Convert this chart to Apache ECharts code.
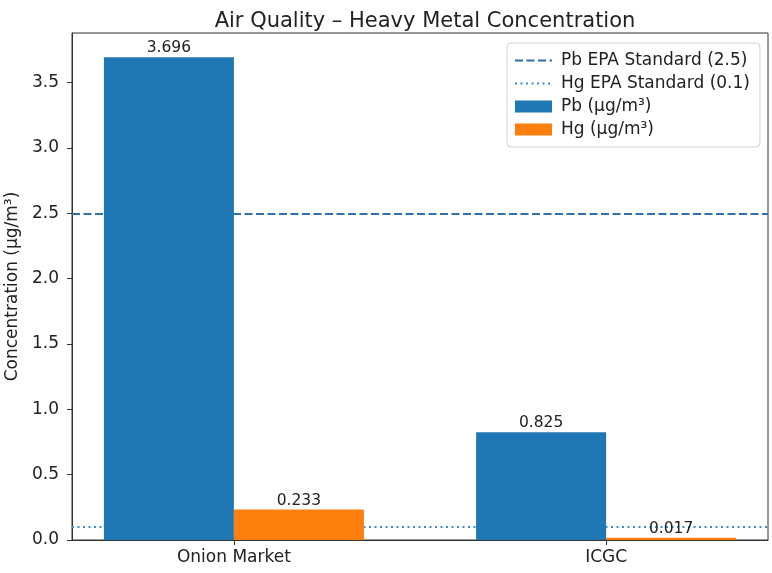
<!DOCTYPE html>
<html>
<head>
<meta charset="utf-8">
<script src="https://cdn.jsdelivr.net/npm/echarts@6/dist/echarts.min.js"></script>
<style>
  html, body { margin: 0; padding: 0; background: #fff; }
  #chart { width: 772px; height: 573px; }
</style>
</head>
<body>
<div id="chart"></div>
<script>
// data
const categories = ['Onion Market', 'ICGC'];
const pbValues = [3.696, 0.825];
const hgValues = [0.233, 0.017];
const pbStandard = 2.5;
const hgStandard = 0.1;
const yTicks = [0, 0.5, 1.0, 1.5, 2.0, 2.5, 3.0, 3.5];

const font = 'DejaVu Sans';
const yMax = Math.max(...pbValues) * 1.05;
const hideDot = { color: 'rgba(0,0,0,0)', borderColor: 'rgba(0,0,0,0)', borderWidth: 0, opacity: 0 };

const myChart = echarts.init(document.getElementById('chart'));
myChart.setOption({
    animation: false,
    textStyle: { fontFamily: font },
    title: {
        text: 'Air Quality \u2013 Heavy Metal Concentration',
        left: 420,
        textAlign: 'center',
        top: 6,
        textStyle: { fontFamily: font, fontSize: 21, fontWeight: 'normal', color: '#222' }
    },
    legend: {
        orient: 'vertical',
        left: 507,
        top: 43,
        padding: [9, 10, 9, 7],
        itemWidth: 37,
        itemHeight: 12,
        itemGap: 6,
        borderColor: '#d0d0d0',
        borderWidth: 1,
        borderRadius: 4,
        backgroundColor: '#fff',
        textStyle: { fontFamily: font, fontSize: 17, color: '#222', padding: [0, 0, 0, 4] },
        data: [
            { name: 'Pb EPA Standard (2.5)', itemStyle: hideDot },
            { name: 'Hg EPA Standard (0.1)', itemStyle: hideDot },
            { name: 'Pb (\u00b5g/m\u00b3)', icon: 'rect' },
            { name: 'Hg (\u00b5g/m\u00b3)', icon: 'rect' }
        ]
    },
    grid: {
        left: 72, right: 4, top: 33, bottom: 33,
        outerBoundsMode: 'none',
        show: true, borderColor: '#333', borderWidth: 1, backgroundColor: 'transparent'
    },
    xAxis: {
        type: 'value',
        min: -0.435,
        max: 1.435,
        splitLine: { show: false },
        axisLine: { show: true, onZero: false, lineStyle: { color: '#333' } },
        axisTick: { show: true, customValues: [0, 1], length: 5, lineStyle: { color: '#333' } },
        axisLabel: {
            customValues: [0, 1],
            formatter: v => categories[Math.round(v)],
            fontFamily: font, fontSize: 17, color: '#222', margin: 9
        }
    },
    yAxis: {
        type: 'value',
        min: 0,
        max: yMax,
        interval: 0.5,
        name: 'Concentration (\u00b5g/m\u00b3)',
        nameLocation: 'middle',
        nameRotate: 90,
        nameGap: 38,
        nameTextStyle: { fontFamily: font, fontSize: 17, color: '#222' },
        splitLine: { show: false },
        axisLine: { show: true, onZero: false, lineStyle: { color: '#333' } },
        axisTick: { show: true, length: 5, lineStyle: { color: '#333' } },
        axisLabel: {
            fontFamily: font, fontSize: 17, color: '#222', margin: 13,
            showMaxLabel: false,
            formatter: v => yTicks.some(t => Math.abs(t - v) < 1e-6) ? v.toFixed(1) : ''
        }
    },
    series: [
        {
            name: 'Pb EPA Standard (2.5)',
            type: 'line',
            data: [],
            symbol: 'none',
            z: 1,
            color: '#2f6fae',
            lineStyle: { color: '#2f6fae', width: 2, type: [8, 3.5] },
            markLine: {
                silent: true,
                symbol: ['none', 'none'],
                label: { show: false },
                z: 1,
                lineStyle: { color: '#2f6fae', width: 2, type: [8, 3.5] },
                data: [{ yAxis: pbStandard }]
            }
        },
        {
            name: 'Hg EPA Standard (0.1)',
            type: 'line',
            data: [],
            symbol: 'none',
            z: 1,
            color: '#3d8bd3',
            lineStyle: { color: '#3d8bd3', width: 2, type: [2, 3.5] },
            markLine: {
                silent: true,
                symbol: ['none', 'none'],
                label: { show: false },
                z: 1,
                lineStyle: { color: '#3d8bd3', width: 2, type: [2, 3.5] },
                data: [{ yAxis: hgStandard }]
            }
        },
        {
            name: 'Pb (\u00b5g/m\u00b3)',
            type: 'bar',
            z: 3,
            barWidth: 130,
            barGap: '0%',
            itemStyle: { color: '#1f77b4' },
            label: { show: true, position: 'top', distance: 1, fontFamily: font, fontSize: 15.5, color: '#222' },
            data: pbValues.map((v, i) => [i, v])
        },
        {
            name: 'Hg (\u00b5g/m\u00b3)',
            type: 'bar',
            z: 3,
            barWidth: 130,
            barGap: '0%',
            itemStyle: { color: '#ff7f0e' },
            label: { show: true, position: 'top', distance: 1, fontFamily: font, fontSize: 15.5, color: '#222' },
            data: hgValues.map((v, i) => [i, v])
        }
    ]
});
</script>
</body>
</html>
